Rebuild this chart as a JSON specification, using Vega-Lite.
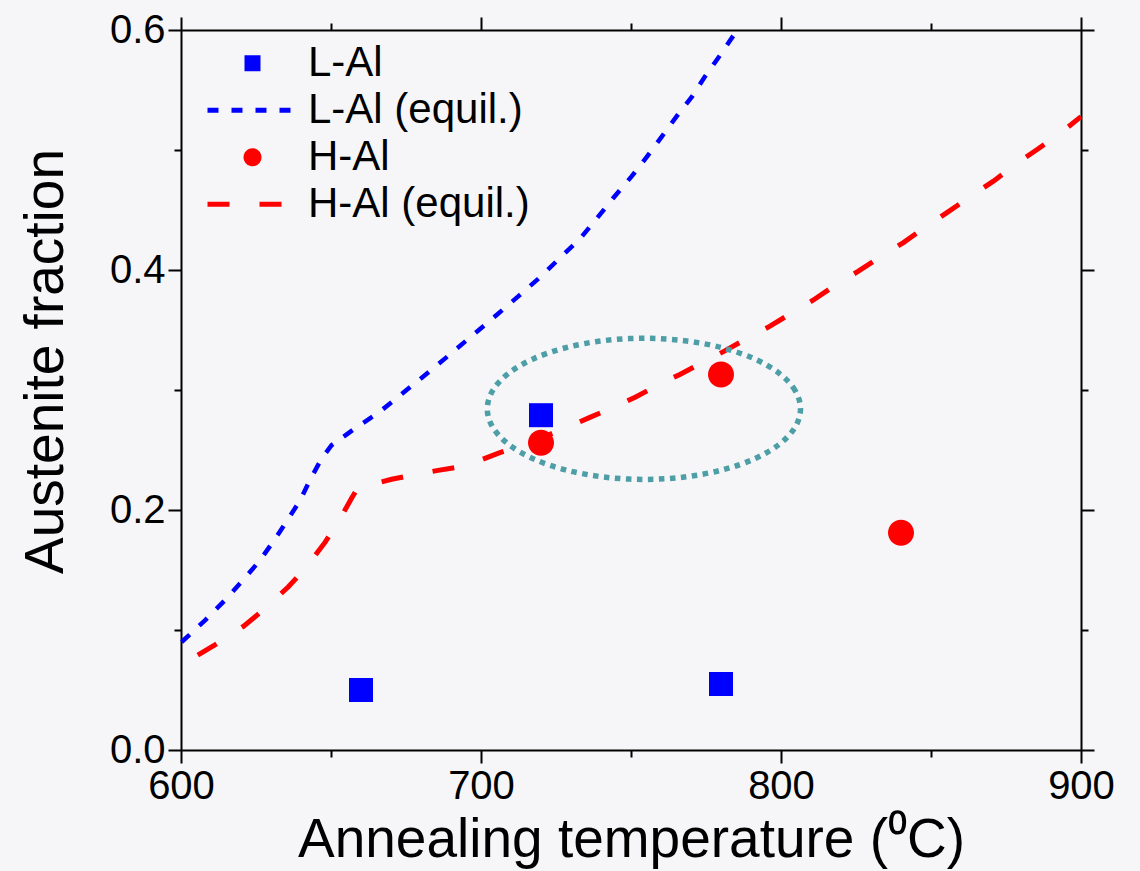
{
  "$schema": "https://vega.github.io/schema/vega-lite/v6.json",
  "width": 900,
  "height": 720,
  "autosize": {"type": "none"},
  "padding": {"left": 181, "top": 30, "right": 59, "bottom": 121},
  "background": "#f6f6f8",
  "config": {"view": {"stroke": null}},
  "datasets": {
    "pts": [
      {"t": 660, "f": 0.05, "series": "L-Al"},
      {"t": 720, "f": 0.279, "series": "L-Al"},
      {"t": 780, "f": 0.055, "series": "L-Al"},
      {"t": 720, "f": 0.256, "series": "H-Al"},
      {"t": 780, "f": 0.313, "series": "H-Al"},
      {"t": 840, "f": 0.181, "series": "H-Al"}
    ],
    "curves": [
      {"t": 600.2, "f": 0.090, "series": "L-Al (equil.)"},
      {"t": 608, "f": 0.108, "series": "L-Al (equil.)"},
      {"t": 614.7, "f": 0.125, "series": "L-Al (equil.)"},
      {"t": 620.8, "f": 0.142, "series": "L-Al (equil.)"},
      {"t": 626.3, "f": 0.158, "series": "L-Al (equil.)"},
      {"t": 631.1, "f": 0.175, "series": "L-Al (equil.)"},
      {"t": 635.6, "f": 0.192, "series": "L-Al (equil.)"},
      {"t": 639.7, "f": 0.208, "series": "L-Al (equil.)"},
      {"t": 643.2, "f": 0.226, "series": "L-Al (equil.)"},
      {"t": 646.9, "f": 0.243, "series": "L-Al (equil.)"},
      {"t": 650.2, "f": 0.254, "series": "L-Al (equil.)"},
      {"t": 658, "f": 0.268, "series": "L-Al (equil.)"},
      {"t": 665.8, "f": 0.281, "series": "L-Al (equil.)"},
      {"t": 671.3, "f": 0.292, "series": "L-Al (equil.)"},
      {"t": 686, "f": 0.322, "series": "L-Al (equil.)"},
      {"t": 705.2, "f": 0.3625, "series": "L-Al (equil.)"},
      {"t": 712.4, "f": 0.378, "series": "L-Al (equil.)"},
      {"t": 719.7, "f": 0.394, "series": "L-Al (equil.)"},
      {"t": 726.3, "f": 0.410, "series": "L-Al (equil.)"},
      {"t": 733, "f": 0.426, "series": "L-Al (equil.)"},
      {"t": 738.6, "f": 0.443, "series": "L-Al (equil.)"},
      {"t": 744.1, "f": 0.460, "series": "L-Al (equil.)"},
      {"t": 750.2, "f": 0.478, "series": "L-Al (equil.)"},
      {"t": 755.2, "f": 0.494, "series": "L-Al (equil.)"},
      {"t": 760.2, "f": 0.511, "series": "L-Al (equil.)"},
      {"t": 765.2, "f": 0.528, "series": "L-Al (equil.)"},
      {"t": 770.2, "f": 0.544, "series": "L-Al (equil.)"},
      {"t": 774.6, "f": 0.561, "series": "L-Al (equil.)"},
      {"t": 779.7, "f": 0.579, "series": "L-Al (equil.)"},
      {"t": 785.4, "f": 0.600, "series": "L-Al (equil.)"},
      {"t": 605.6, "f": 0.079, "series": "H-Al (equil.)"},
      {"t": 612.2, "f": 0.089, "series": "H-Al (equil.)"},
      {"t": 620.8, "f": 0.103, "series": "H-Al (equil.)"},
      {"t": 627.1, "f": 0.116, "series": "H-Al (equil.)"},
      {"t": 635.8, "f": 0.136, "series": "H-Al (equil.)"},
      {"t": 641.3, "f": 0.151, "series": "H-Al (equil.)"},
      {"t": 648, "f": 0.173, "series": "H-Al (equil.)"},
      {"t": 652.2, "f": 0.189, "series": "H-Al (equil.)"},
      {"t": 656.9, "f": 0.210, "series": "H-Al (equil.)"},
      {"t": 659.1, "f": 0.219, "series": "H-Al (equil.)"},
      {"t": 661.9, "f": 0.220, "series": "H-Al (equil.)"},
      {"t": 670.2, "f": 0.2256, "series": "H-Al (equil.)"},
      {"t": 676.9, "f": 0.229, "series": "H-Al (equil.)"},
      {"t": 685.2, "f": 0.2328, "series": "H-Al (equil.)"},
      {"t": 691.9, "f": 0.2356, "series": "H-Al (equil.)"},
      {"t": 700, "f": 0.2417, "series": "H-Al (equil.)"},
      {"t": 706.3, "f": 0.2478, "series": "H-Al (equil.)"},
      {"t": 715.2, "f": 0.255, "series": "H-Al (equil.)"},
      {"t": 729.7, "f": 0.270, "series": "H-Al (equil.)"},
      {"t": 736.3, "f": 0.2772, "series": "H-Al (equil.)"},
      {"t": 744.7, "f": 0.286, "series": "H-Al (equil.)"},
      {"t": 751.4, "f": 0.294, "series": "H-Al (equil.)"},
      {"t": 759.7, "f": 0.305, "series": "H-Al (equil.)"},
      {"t": 766.3, "f": 0.313, "series": "H-Al (equil.)"},
      {"t": 774.4, "f": 0.3236, "series": "H-Al (equil.)"},
      {"t": 781.4, "f": 0.3328, "series": "H-Al (equil.)"},
      {"t": 789.5, "f": 0.3442, "series": "H-Al (equil.)"},
      {"t": 796.2, "f": 0.353, "series": "H-Al (equil.)"},
      {"t": 804.1, "f": 0.365, "series": "H-Al (equil.)"},
      {"t": 810.8, "f": 0.375, "series": "H-Al (equil.)"},
      {"t": 819.1, "f": 0.389, "series": "H-Al (equil.)"},
      {"t": 825.8, "f": 0.399, "series": "H-Al (equil.)"},
      {"t": 834.1, "f": 0.4125, "series": "H-Al (equil.)"},
      {"t": 840.8, "f": 0.4228, "series": "H-Al (equil.)"},
      {"t": 849.1, "f": 0.4375, "series": "H-Al (equil.)"},
      {"t": 855.8, "f": 0.4486, "series": "H-Al (equil.)"},
      {"t": 863.9, "f": 0.4625, "series": "H-Al (equil.)"},
      {"t": 870.8, "f": 0.474, "series": "H-Al (equil.)"},
      {"t": 878.6, "f": 0.4889, "series": "H-Al (equil.)"},
      {"t": 885.5, "f": 0.5006, "series": "H-Al (equil.)"},
      {"t": 893.6, "f": 0.515, "series": "H-Al (equil.)"},
      {"t": 900, "f": 0.5278, "series": "H-Al (equil.)"}
    ],
    "ellipse": [
      {"i": 0, "t": 806.5, "f": 0.2843},
      {"i": 1, "t": 804.72, "f": 0.2995},
      {"i": 2, "t": 799.51, "f": 0.3137},
      {"i": 3, "t": 791.21, "f": 0.3259},
      {"i": 4, "t": 780.4, "f": 0.3352},
      {"i": 5, "t": 767.81, "f": 0.3411},
      {"i": 6, "t": 754.3, "f": 0.3431},
      {"i": 7, "t": 740.79, "f": 0.3411},
      {"i": 8, "t": 728.2, "f": 0.3352},
      {"i": 9, "t": 717.39, "f": 0.3259},
      {"i": 10, "t": 709.09, "f": 0.3137},
      {"i": 11, "t": 703.88, "f": 0.2995},
      {"i": 12, "t": 702.1, "f": 0.2843},
      {"i": 13, "t": 703.88, "f": 0.2691},
      {"i": 14, "t": 709.09, "f": 0.2549},
      {"i": 15, "t": 717.39, "f": 0.2427},
      {"i": 16, "t": 728.2, "f": 0.2334},
      {"i": 17, "t": 740.79, "f": 0.2275},
      {"i": 18, "t": 754.3, "f": 0.2255},
      {"i": 19, "t": 767.81, "f": 0.2275},
      {"i": 20, "t": 780.4, "f": 0.2334},
      {"i": 21, "t": 791.21, "f": 0.2427},
      {"i": 22, "t": 799.51, "f": 0.2549},
      {"i": 23, "t": 804.72, "f": 0.2691}
    ]
  },
  "resolve": {"axis": {"x": "independent", "y": "independent"}},
  "layer": [
    {
      "data": {"name": "pts"},
      "transform": [{"filter": "datum.series === 'L-Al'"}],
      "mark": {"type": "point", "filled": true, "opacity": 1, "size": 38700},
      "encoding": {
        "x": {
          "field": "t", "type": "quantitative",
          "scale": {"domain": [600, 900], "nice": false, "zero": false},
          "axis": {
            "orient": "bottom", "grid": false,
            "values": [600, 650, 700, 750, 800, 850, 900],
            "labelExpr": "datum.value % 100 === 0 ? datum.label : ''",
            "tickSize": {"condition": {"test": "datum.value % 100 === 0", "value": 13}, "value": 7},
            "tickWidth": 2, "tickColor": "black", "domainColor": "black", "domainWidth": 2,
            "labelFont": "Liberation Sans", "labelFontSize": 40, "labelColor": "black",
            "labelPadding": 3, "labelFlush": false, "labelOverlap": false,
            "title": "Annealing temperature (⁰C)",
            "titleFont": "Liberation Sans", "titleFontSize": 55, "titleFontWeight": "normal",
            "titleColor": "black", "titlePadding": 7
          }
        },
        "y": {
          "field": "f", "type": "quantitative",
          "scale": {"domain": [0, 0.6], "nice": false, "zero": false},
          "axis": {
            "orient": "left", "grid": false,
            "values": [0, 0.1, 0.2, 0.3, 0.4, 0.5, 0.6],
            "labelExpr": "round(datum.value * 10) % 2 === 0 ? format(datum.value, '.1f') : ''",
            "tickSize": {"condition": {"test": "round(datum.value * 10) % 2 === 0", "value": 13}, "value": 7},
            "tickWidth": 2, "tickColor": "black", "domainColor": "black", "domainWidth": 2,
            "labelFont": "Liberation Sans", "labelFontSize": 40, "labelColor": "black",
            "labelPadding": 3, "labelFlush": false, "labelOverlap": false,
            "title": "Austenite fraction",
            "titleFont": "Liberation Sans", "titleFontSize": 55, "titleFontWeight": "normal",
            "titleColor": "black", "titleX": -119, "titleY": 331, "titleAngle": -90,
            "titleBaseline": "alphabetic", "titleAlign": "center"
          }
        },
        "color": {
          "field": "series", "type": "nominal",
          "scale": {"domain": ["L-Al", "L-Al (equil.)", "H-Al", "H-Al (equil.)"], "range": ["#0000ff", "#0000ff", "#ff0000", "#ff0000"]},
          "legend": {
            "title": null, "orient": "none", "legendX": 24, "legendY": 10,
            "padding": 0, "rowPadding": 0, "clipHeight": 46.5,
            "symbolSize": 8100, "symbolStrokeWidth": 5,
            "labelFont": "Liberation Sans", "labelFontSize": 42,
            "labelColor": "black", "labelOffset": 8, "labelLimit": 0,
            "encode": {
              "symbols": {
                "update": {
                  "shape": {"scale": "shape", "field": "value"},
                  "size": {"value": 8100},
                  "fill": {"signal": "indexof(['L-Al','H-Al'], datum.value) >= 0 ? scale('color', datum.value) : 'transparent'"},
                  "stroke": {"scale": "color", "field": "value"},
                  "strokeWidth": {"value": 5},
                  "strokeDash": {"scale": "strokeDash", "field": "value"},
                  "strokeCap": {"value": "butt"},
                  "opacity": {"value": 1}
                }
              }
            }
          }
        },
        "shape": {
          "field": "series", "type": "nominal",
          "scale": {"domain": ["L-Al", "L-Al (equil.)", "H-Al", "H-Al (equil.)"], "range": ["M-0.122,-0.122H0.122V0.122H-0.122Z", "stroke", "M0.144,0A0.144,0.144 0 1,1 -0.144,0A0.144,0.144 0 1,1 0.144,0Z", "stroke"]}
        }
      }
    },
    {
      "data": {"name": "pts"},
      "transform": [{"filter": "datum.series === 'H-Al'"}],
      "mark": {"type": "point", "filled": true, "opacity": 1, "size": 32600},
      "encoding": {
        "x": {"field": "t", "type": "quantitative", "axis": null},
        "y": {"field": "f", "type": "quantitative", "axis": null},
        "color": {"field": "series", "type": "nominal"},
        "shape": {"field": "series", "type": "nominal"}
      }
    },
    {
      "data": {"name": "curves"},
      "transform": [{"filter": "datum.series === 'L-Al (equil.)'"}],
      "mark": {"type": "line", "strokeWidth": 4.5, "strokeCap": "butt"},
      "encoding": {
        "x": {"field": "t", "type": "quantitative", "axis": null},
        "y": {"field": "f", "type": "quantitative", "axis": null},
        "color": {"field": "series", "type": "nominal"},
        "strokeDash": {
          "field": "series", "type": "nominal",
          "scale": {"domain": ["L-Al", "L-Al (equil.)", "H-Al", "H-Al (equil.)"], "range": [[1, 0], [11, 13], [1, 0], [22, 30]]}
        }
      }
    },
    {
      "data": {"name": "curves"},
      "transform": [{"filter": "datum.series === 'H-Al (equil.)'"}],
      "mark": {"type": "line", "strokeWidth": 5, "strokeCap": "butt"},
      "encoding": {
        "x": {"field": "t", "type": "quantitative", "axis": null},
        "y": {"field": "f", "type": "quantitative", "axis": null},
        "color": {"field": "series", "type": "nominal"},
        "strokeDash": {"field": "series", "type": "nominal"}
      }
    },
    {
      "data": {"name": "ellipse"},
      "mark": {"type": "line", "interpolate": "cardinal-closed", "color": "#4d9ea6", "strokeWidth": 5.5, "strokeDash": [5.5, 5.5]},
      "encoding": {
        "x": {"field": "t", "type": "quantitative", "axis": null},
        "y": {"field": "f", "type": "quantitative", "axis": null},
        "order": {"field": "i", "type": "quantitative"}
      }
    },
    {
      "data": {"name": "pts"},
      "mark": {"type": "point", "opacity": 0},
      "encoding": {
        "x": {
          "field": "t", "type": "quantitative",
          "axis": {
            "orient": "top", "grid": false, "labels": false, "title": null,
            "values": [600, 650, 700, 750, 800, 850, 900],
            "tickSize": {"condition": {"test": "datum.value % 100 === 0", "value": 13}, "value": 7},
            "tickWidth": 2, "tickColor": "black", "domainColor": "black", "domainWidth": 2
          }
        },
        "y": {
          "field": "f", "type": "quantitative",
          "axis": {
            "orient": "right", "grid": false, "labels": false, "title": null,
            "values": [0, 0.1, 0.2, 0.3, 0.4, 0.5, 0.6],
            "tickSize": {"condition": {"test": "round(datum.value * 10) % 2 === 0", "value": 13}, "value": 7},
            "tickWidth": 2, "tickColor": "black", "domainColor": "black", "domainWidth": 2
          }
        }
      }
    }
  ]
}
